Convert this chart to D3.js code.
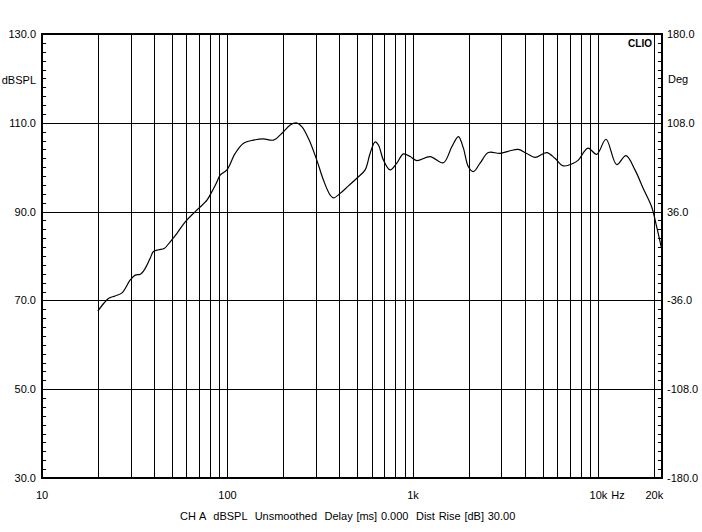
<!DOCTYPE html>
<html>
<head>
<meta charset="utf-8">
<script src="https://cdn.jsdelivr.net/npm/d3@7"></script>
<style>
  html, body { margin: 0; padding: 0; background: #fff; }
  svg { display: block; }
  text { font-family: "Liberation Sans", Arial, sans-serif; fill: #000; }
</style>
</head>
<body>
<svg id="chart" width="702" height="532"></svg>
<script>
// ---- data ----
const freqHz = [20, 21.5, 22.9, 24.8, 27, 29.9, 31.8, 33.9, 36, 38.3, 39.9, 42.5, 45.6, 49.1, 53.4, 59.2, 67, 77.5, 82.4, 87.7, 91.3, 99.3, 110, 122, 138, 156, 177, 196, 218, 235, 252, 273, 303, 329, 358, 373, 405, 449, 498, 552, 587, 625, 651, 693, 753, 818, 888, 965, 1048, 1237, 1458, 1619, 1757, 1869, 1988, 2115, 2299, 2549, 2947, 3336, 3698, 4104, 4549, 5259, 5829, 6461, 7315, 7783, 8778, 9779, 10975, 12535, 14066, 15728, 17434, 19344, 20584, 21985];
const splDb = [67.6, 69.3, 70.5, 71.0, 71.7, 74.6, 75.7, 75.9, 77.2, 79.5, 81.0, 81.4, 81.7, 83.2, 85.1, 87.7, 90.0, 92.6, 94.5, 96.7, 98.2, 99.4, 103.1, 105.4, 106.1, 106.4, 106.1, 107.6, 109.5, 110.0, 109.1, 106.5, 101.6, 97.1, 93.7, 93.1, 94.1, 95.8, 97.5, 99.4, 103.1, 105.7, 105.0, 101.6, 99.4, 100.9, 103.0, 102.4, 101.5, 102.4, 101.0, 104.6, 106.9, 104.3, 100.1, 99.0, 100.9, 103.3, 103.1, 103.7, 104.0, 103.1, 102.2, 103.3, 102.0, 100.3, 100.9, 101.6, 104.3, 102.9, 106.3, 100.6, 102.6, 99.4, 95.2, 91.1, 86.6, 81.3];

const leftTicks = [130, 110, 90, 70, 50, 30];
const leftTickLabels = ["130.0", "110.0", "90.0", "70.0", "50.0", "30.0"];
const rightVals = [180, 108, 36, -36, -108, -180];
const rightTickLabels = ["180.0", "108.0", "36.0", "-36.0", "-108.0", "-180.0"];
const xGridFreqs = [20, 30, 40, 50, 60, 70, 80, 90, 100, 200, 300, 400, 500, 600, 700, 800, 900, 1000, 2000, 3000, 4000, 5000, 6000, 7000, 8000, 9000, 10000, 20000];
const xLabelFreqs = [10, 100, 1000, 10000, 20000];
const xLabelTexts = ["10", "100", "1k", "10k", "20k"];
const caption = "CH A  dBSPL  Unsmoothed  Delay [ms] 0.000  Dist Rise [dB] 30.00";

// ---- layout ----
const L = 42, R = 662, T = 34, B = 478;
const svg = d3.select("#chart");
const x = d3.scaleLog().domain([10, 22000]).range([L, R]);
const y = d3.scaleLinear().domain([30, 130]).range([B, T]);
const yRight = d3.scaleLinear().domain([-180, 180]).range([B, T]);
const px = v => Math.round(v) + 0.5;

// vertical grid
svg.append("g").selectAll("line").data(xGridFreqs).join("line")
  .attr("x1", d => px(x(d))).attr("x2", d => px(x(d)))
  .attr("y1", T).attr("y2", B)
  .attr("stroke", "#000").attr("stroke-width", 1);

// horizontal grid
svg.append("g").selectAll("line").data([110, 90, 70, 50]).join("line")
  .attr("x1", L).attr("x2", R)
  .attr("y1", d => px(y(d))).attr("y2", d => px(y(d)))
  .attr("stroke", "#000").attr("stroke-width", 1);

// minor ticks (inward) every 2 dB
const minor = d3.range(30, 131, 2);
svg.append("g").selectAll("line").data(minor).join("line")
  .attr("x1", L).attr("x2", L + 4)
  .attr("y1", d => px(y(d))).attr("y2", d => px(y(d)))
  .attr("stroke", "#000");
svg.append("g").selectAll("line").data(minor).join("line")
  .attr("x1", R - 4).attr("x2", R)
  .attr("y1", d => px(y(d))).attr("y2", d => px(y(d)))
  .attr("stroke", "#000");

// frame
svg.append("rect").attr("x", L).attr("y", T).attr("width", R - L).attr("height", B - T)
  .attr("fill", "none").attr("stroke", "#000").attr("stroke-width", 2);

// curve
const pts = freqHz.map((f, i) => [f, splDb[i]]);
const line = d3.line().x(d => x(d[0])).y(d => y(d[1])).curve(d3.curveCatmullRom.alpha(0.5));
svg.append("path").datum(pts).attr("d", line)
  .attr("fill", "none").attr("stroke", "#000").attr("stroke-width", 1.2);

// left labels
svg.append("g").selectAll("text").data(leftTicks).join("text")
  .attr("x", 36).attr("y", d => y(d) + 4)
  .attr("text-anchor", "end").attr("font-size", 11)
  .text((d, i) => leftTickLabels[i]);
svg.append("text").attr("x", 36).attr("y", 84).attr("text-anchor", "end")
  .attr("font-size", 11).text("dBSPL");

// right labels
svg.append("g").selectAll("text").data(rightVals).join("text")
  .attr("x", 667).attr("y", d => yRight(d) + 4)
  .attr("text-anchor", "start").attr("font-size", 11)
  .text((d, i) => rightTickLabels[i]);
svg.append("text").attr("x", 668).attr("y", 83).attr("text-anchor", "start")
  .attr("font-size", 11).text("Deg");

// CLIO
svg.append("text").attr("x", 652).attr("y", 47).attr("text-anchor", "end")
  .attr("font-size", 10).attr("font-weight", "bold").text("CLIO");

// x labels
svg.append("g").selectAll("text").data(xLabelFreqs).join("text")
  .attr("x", d => x(d)).attr("y", 499)
  .attr("text-anchor", "middle").attr("font-size", 11)
  .text((d, i) => xLabelTexts[i]);
svg.append("text").attr("x", 618).attr("y", 499).attr("text-anchor", "middle")
  .attr("font-size", 11).text("Hz");

// caption
svg.append("text").attr("x", 180).attr("y", 520).attr("text-anchor", "start")
  .attr("font-size", 11).style("white-space", "pre").style("word-spacing", "0.7px")
  .text(caption);
</script>
</body>
</html>
